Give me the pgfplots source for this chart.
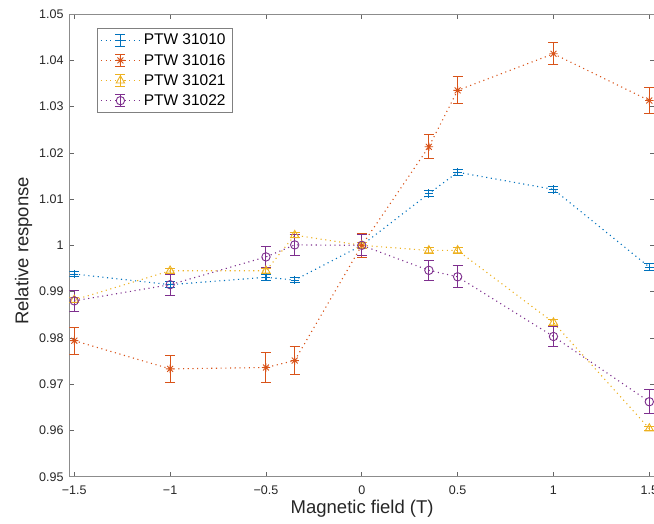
\documentclass[border=0pt]{standalone}
\usepackage{fontspec}
\setmainfont{Liberation Sans}
\usepackage{pgfplots}
\usepackage{pgfplotstable}
\pgfplotsset{compat=1.18}
\definecolor{mblue}{rgb}{0,0.447,0.741}
\definecolor{morange}{rgb}{0.850,0.325,0.098}
\definecolor{myellow}{rgb}{0.929,0.694,0.125}
\definecolor{mpurple}{rgb}{0.494,0.184,0.556}
\definecolor{txt}{rgb}{0.15,0.15,0.15}

\pgfdeclareplotmark{mstar}{%
  \pgfpathmoveto{\pgfqpoint{\pgfplotmarksize}{0pt}}\pgfpathlineto{\pgfqpoint{-\pgfplotmarksize}{0pt}}%
  \pgfpathmoveto{\pgfqpoint{0pt}{\pgfplotmarksize}}\pgfpathlineto{\pgfqpoint{0pt}{-\pgfplotmarksize}}%
  \pgfpathmoveto{\pgfqpoint{0.707\pgfplotmarksize}{0.707\pgfplotmarksize}}\pgfpathlineto{\pgfqpoint{-0.707\pgfplotmarksize}{-0.707\pgfplotmarksize}}%
  \pgfpathmoveto{\pgfqpoint{-0.707\pgfplotmarksize}{0.707\pgfplotmarksize}}\pgfpathlineto{\pgfqpoint{0.707\pgfplotmarksize}{-0.707\pgfplotmarksize}}%
  \pgfusepathqstroke}

\pgfplotstableread{
x y e
-1.5 0.9938 0.0006
-1 0.9915 0.0006
-0.5 0.9931 0.0006
-0.35 0.9925 0.0006
0 1.0000 0.0006
0.35 1.0112 0.0007
0.5 1.0158 0.0007
1 1.0121 0.0007
1.5 0.9953 0.0007
}\ptwa
\pgfplotstableread{
x y e
-1.5 0.9794 0.0029
-1 0.9733 0.0029
-0.5 0.9736 0.0032
-0.35 0.9751 0.0030
0 1.0000 0.0026
0.35 1.0213 0.0026
0.5 1.0335 0.0029
1 1.0414 0.0024
1.5 1.0313 0.0029
}\ptwb
\pgfplotstableread{
x y e
-1.5 0.9882 0.0006
-1 0.9945 0.0006
-0.5 0.9945 0.0006
-0.35 1.0022 0.0006
0 1.0000 0.0006
0.35 0.9989 0.0007
0.5 0.9989 0.0007
1 0.9833 0.0006
1.5 0.9604 0.0005
}\ptwc
\pgfplotstableread{
x y e
-1.5 0.9880 0.0022
-1 0.9915 0.0023
-0.5 0.9975 0.0023
-0.35 1.0001 0.0023
0 1.0000 0.0023
0.35 0.9946 0.0022
0.5 0.9932 0.0024
1 0.9803 0.0022
1.5 0.9662 0.0026
}\ptwd

\pgfplotsset{
  ebars/.style={
    error bars/y dir=both, error bars/y explicit,
    error bars/error bar style={solid, line width=1pt, color=#1},
    error bars/error mark options={solid, line width=1pt, mark size=5pt, rotate=90, color=#1},
  }
}

\begin{document}
\begin{tikzpicture}
\begin{axis}[
  at={(69.3pt,46.3pt)}, anchor=south west,
  scale only axis, width=585.7pt, height=462.7pt,
  xmin=-1.526, xmax=1.5297, ymin=0.95, ymax=1.05,
  xtick={-1.5,-1,-0.5,0,0.5,1,1.5},
  xticklabels={−1.5,−1,−0.5,0,0.5,1,1.5},
  ytick={0.95,0.96,0.97,0.98,0.99,1,1.01,1.02,1.03,1.04,1.05},
  yticklabels={0.95,0.96,0.97,0.98,0.99,1,1.01,1.02,1.03,1.04,1.05},
  tick align=inside, major tick length=5pt,
  tick style={black!60, line width=0.6pt},
  axis line style={black!45, line width=0.8pt},
  ticklabel style={font=\fontsize{12.5}{15}\selectfont, text=txt},
  xticklabel style={yshift=-5.8pt},
  yticklabel style={xshift=-2.3pt},
  xlabel={Magnetic field (T)}, ylabel={Relative response},
  label style={font=\fontsize{18.5}{22}\selectfont, text=txt},
  xlabel style={at={(axis description cs:0.5,-0.0806)}, anchor=base},
  ylabel style={at={(axis description cs:-0.07,0.488)}, anchor=base},
  every axis plot/.append style={line width=1.1pt, dash pattern=on 1.1pt off 3.6pt, mark options={solid, line width=0.9pt}},
  legend style={at={(axis description cs:0.0474,0.969)}, anchor=north west,
    draw=black!50, line width=0.6pt, fill=white,
    font=\fontsize{15.5}{18}\selectfont, text=black,
    inner xsep=3pt, inner ysep=4pt, row sep=4.8pt,
    nodes={inner xsep=3.3pt, inner ysep=1.5pt}},
  legend cell align=left,
  legend image code/.code={
    \draw[#1, mark=none] (0pt,0pt) -- (39pt,0pt);
    \draw[#1, solid, mark=none, line width=1pt] (19.5pt,-6.3pt) -- (19.5pt,6.3pt) (14.5pt,-6.3pt) -- (24.5pt,-6.3pt) (14.5pt,6.3pt) -- (24.5pt,6.3pt);
    \draw[#1, solid] plot coordinates {(19.5pt,0pt)};
  },
]
\addplot[color=mblue, mark=+, mark size=4.2pt, ebars=mblue] table[x=x, y=y, y error=e] {\ptwa};
\addlegendentry{PTW 31010}
\addplot[color=morange, mark=mstar, mark size=4.2pt, ebars=morange] table[x=x, y=y, y error=e] {\ptwb};
\addlegendentry{PTW 31016}
\addplot[color=myellow, mark=triangle, mark size=4.8pt, ebars=myellow] table[x=x, y=y, y error=e] {\ptwc};
\addlegendentry{PTW 31021}
\addplot[color=mpurple, mark=o, mark size=4.2pt, ebars=mpurple] table[x=x, y=y, y error=e] {\ptwd};
\addlegendentry{PTW 31022}
\end{axis}
\pgfresetboundingbox
\useasboundingbox (0pt,0pt) rectangle (654pt,523pt);
\end{tikzpicture}
\end{document}
